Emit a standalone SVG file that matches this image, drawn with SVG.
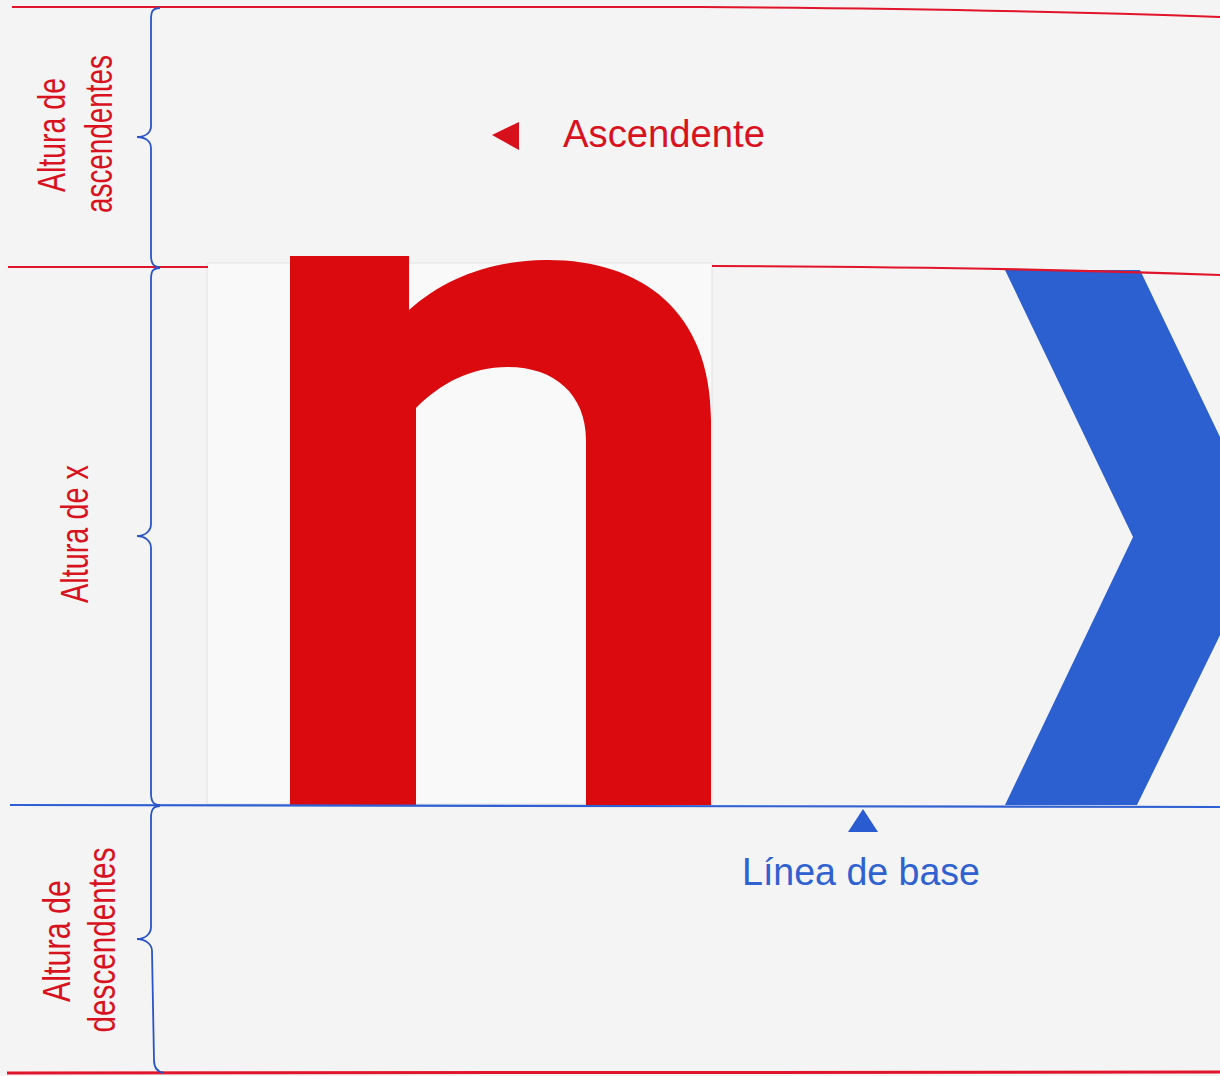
<svg xmlns="http://www.w3.org/2000/svg" width="1220" height="1076" viewBox="0 0 1220 1076">
<style>
.red-line{fill:none;stroke:#e0142a;stroke-width:2.2}
.blue-line{fill:none;stroke:#2f5fd3;stroke-width:2.2}
.brace{fill:none;stroke:#2a55c8;stroke-width:1.8}
.lbl{font-family:"Liberation Sans",Arial,sans-serif;font-size:39px;fill:#d8121e;text-anchor:middle}
.big{font-family:"Liberation Sans",Arial,sans-serif;font-size:38px}
</style>
<rect x="0" y="0" width="1220" height="1076" fill="#f4f4f4"/>
<g id="paper">
<rect x="207" y="263" width="505" height="541" fill="#f9f9f9" stroke="#e2e2e2" stroke-width="1"/>
</g>
<g id="letter-n">
<path d="M 290 805 V 256 H 409 V 310 C 445 278 490 261 545 260 C 640 259 711 310 711 420 V 805 H 586 V 440 C 586 395 555 367 508 367 C 470 367 440 384 416 408 V 805 Z" fill="#da0a0e"/>
</g>
<g id="letter-x">
<polygon points="1005,270 1140,270 1268,537 1137,805 1005,805 1133,537" fill="#2c5fcf"/>
</g>
<g id="connectors">
<path class="red-line" d="M 12 7 L 700 7 Q 1000 9 1220 17"/>
<path class="red-line" d="M 8 267 L 208 267"/>
<path class="red-line" d="M 712 266 Q 1000 267 1220 275"/>
<path class="blue-line" d="M 10 805 L 1220 807"/>
<path class="red-line" style="stroke-width:3" d="M 7 1073 L 1220 1072"/>
<path class="brace" d="M 160 8 C 152 8 151 12 151 20 L 151 126 C 151 133 145 137 137 137 C 145 137 151 141 151 148 L 151 255 C 151 263 153 267 160 267"/>
<path class="brace" d="M 160 268 C 152 268 151 272 151 280 V 524 C 151 531 145 536 137 536 C 145 536 151 541 151 548 V 793 C 151 801 153 805 160 805"/>
<path class="brace" d="M 160 806 C 153 806 151 810 151 818 V 927 C 151 934 145 939 137 939 C 145 939 152 944 152 951 L 154 1060 C 154 1068 157 1072 164 1073"/>
</g>
<g id="label-ascendentes">
<text class="lbl" transform="translate(65,135) rotate(-90)" textLength="114" lengthAdjust="spacingAndGlyphs">Altura de</text>
<text class="lbl" transform="translate(112,134) rotate(-90)" textLength="158" lengthAdjust="spacingAndGlyphs">ascendentes</text>
</g>
<g id="label-x">
<text class="lbl" transform="translate(88,534) rotate(-90)" textLength="138" lengthAdjust="spacingAndGlyphs">Altura de x</text>
</g>
<g id="label-descendentes">
<text class="lbl" transform="translate(70,941) rotate(-90)" textLength="122" lengthAdjust="spacingAndGlyphs">Altura de</text>
<text class="lbl" transform="translate(115,940) rotate(-90)" textLength="185" lengthAdjust="spacingAndGlyphs">descendentes</text>
</g>
<g id="ascendente">
<polygon points="492,135 519,122 519,150" fill="#d8101c"/>
<text class="big" x="563" y="147" fill="#d8121e" textLength="202" lengthAdjust="spacingAndGlyphs">Ascendente</text>
</g>
<g id="linea-base">
<polygon points="863,809 848,832 878,832" fill="#2a5bd0"/>
<text class="big" x="742" y="885" fill="#2f62d0" textLength="238" lengthAdjust="spacingAndGlyphs">Línea de base</text>
</g>
</svg>
